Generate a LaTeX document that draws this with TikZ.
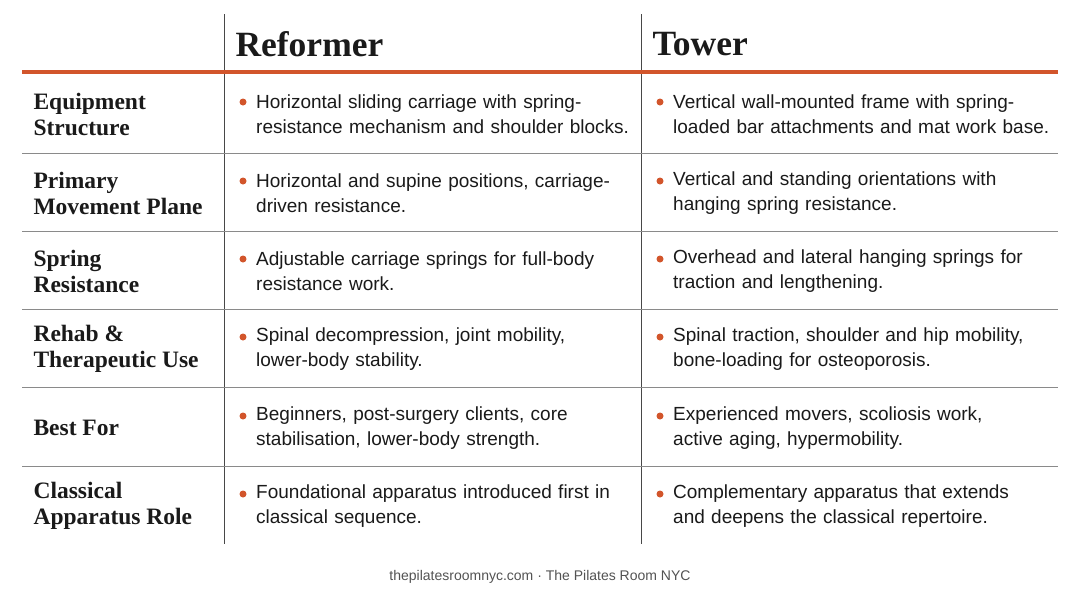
\documentclass[tikz,border=0pt]{standalone}
\usepackage{fontspec}
\setmainfont{Liberation Serif}
\setsansfont{Liberation Sans}
\definecolor{accent}{HTML}{D2552B}
\definecolor{rule}{HTML}{8A8A8A}
\definecolor{ink}{HTML}{1A1A1A}
\begin{document}
\begin{tikzpicture}[x=1pt,y=-1pt,
  hdr/.style={anchor=west,font=\fontsize{35.5}{36}\selectfont\bfseries,text=ink},
  lab/.style={anchor=west,align=left,font=\fontsize{23.5}{26}\selectfont\bfseries,text=ink},
  cell/.style={anchor=west,align=left,font=\sffamily\fontsize{19}{25}\selectfont,text=ink,text width=390pt,inner sep=0pt},
  dot/.style={circle,fill=accent,inner sep=0pt,minimum size=7pt},
  sep/.style={draw=rule,line width=0.8pt}]
\useasboundingbox (0,0) rectangle (1080,603);
\fill[white] (0,0) rectangle (1080,603);
\draw[ink!80,line width=0.8pt] (224,14) -- (224,544) (641,14) -- (641,544);
\draw[accent,line width=4pt] (22,72) -- (1058,72);
\node[hdr] (h1) at (232,44) {Reformer};
\node[hdr] (h2) at (649,44) {Tower};
\foreach \y in {153,231,309,387,466} \draw[sep] (22,\y) -- (1058,\y);
\def\row#1#2#3#4#5{%
  \node[lab] (l#1) at (30,#2) {#3};
  \node[dot] (da#1) at (243,#2-12) {};
  \node[cell] (a#1) at (256,#2) {#4};
  \node[dot] (db#1) at (660,#2-12) {};
  \node[cell] (b#1) at (673,#2) {#5};}
\row{1}{114}{Equipment\\Structure}{Horizontal sliding carriage with spring-\\resistance mechanism and shoulder blocks.}{Vertical wall-mounted frame with spring-\\loaded bar attachments and mat work base.}
\row{2}{193}{Primary\\Movement Plane}{Horizontal and supine positions, carriage-\\driven resistance.}{Vertical and standing orientations with\\hanging spring resistance.}
\row{3}{271}{Spring\\Resistance}{Adjustable carriage springs for full-body\\resistance work.}{Overhead and lateral hanging springs for\\traction and lengthening.}
\row{4}{349}{Rehab \&\\Therapeutic Use}{Spinal decompression, joint mobility,\\lower-body stability.}{Spinal traction, shoulder and hip mobility,\\bone-loading for osteoporosis.}
\node[lab] (l5) at (30,428) {Best For};
\node[dot] (da5) at (243,416) {};
\node[cell] (a5) at (256,428) {Beginners, post-surgery clients, core\\stabilisation, lower-body strength.};
\node[dot] (db5) at (660,416) {};
\node[cell] (b5) at (673,428) {Experienced movers, scoliosis work,\\active aging, hypermobility.};
\row{6}{506}{Classical\\Apparatus Role}{Foundational apparatus introduced first in\\classical sequence.}{Complementary apparatus that extends\\and deepens the classical repertoire.}
\node[font=\sffamily\fontsize{14}{16}\selectfont,text=ink!75] (f) at (540,577) {thepilatesroomnyc.com · The Pilates Room NYC};
\end{tikzpicture}
\end{document}
